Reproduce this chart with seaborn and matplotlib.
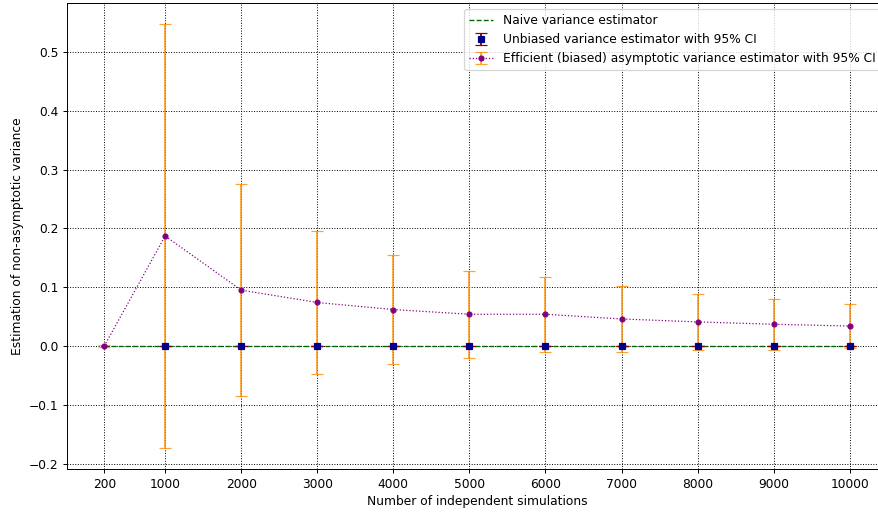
import numpy as np
import pandas as pd
import matplotlib
matplotlib.use('Agg')
import matplotlib.pyplot as plt
import seaborn as sns

# number of simulations (x) and estimates
n_sims = [200, 1000, 2000, 3000, 4000, 5000, 6000, 7000, 8000, 9000, 10000]
naive_var = [0.0] * 11

unbiased_n = [1000, 2000, 3000, 4000, 5000, 6000, 7000, 8000, 9000, 10000]
unbiased_var = [0.0] * 10
unbiased_ci = [0.0005] * 10

efficient_var = [0.0, 0.187, 0.095, 0.074, 0.062, 0.054, 0.054, 0.046, 0.041, 0.037, 0.034]
efficient_ci = [0.002, 0.360, 0.180, 0.122, 0.092, 0.074, 0.064, 0.056, 0.048, 0.043, 0.038]

naive_df = pd.DataFrame({'n': n_sims, 'var': naive_var})

DPI = 88
fig = plt.figure(figsize=(878 / DPI, 512 / DPI), dpi=DPI)
ax = fig.add_axes([67 / 878, 1 - 469 / 512, (887 - 67) / 878, (469 - 3) / 512])

sns.lineplot(data=naive_df, x='n', y='var', ax=ax, color='darkgreen',
             linestyle='--', linewidth=1.1, label='Naive variance estimator')

ax.errorbar(unbiased_n, unbiased_var, yerr=unbiased_ci, fmt='s', color='darkblue',
            ecolor='darkred', markersize=4.5, capsize=5, zorder=3,
            label='Unbiased variance estimator with 95% CI')
ax.errorbar(n_sims, efficient_var, yerr=efficient_ci, fmt='o:', color='purple',
            ecolor=(1.0, 0.55, 0.0, 0.8), markersize=4, capsize=5, linewidth=1,
            elinewidth=1.5, label='Efficient (biased) asymptotic variance estimator with 95% CI')

ax.set_xticks(n_sims)
ax.set_xlabel('Number of independent simulations')
ax.set_ylabel('Estimation of non-asymptotic variance')
ax.grid(True, linestyle=':', color='black', linewidth=0.8)
ax.legend(loc='upper right')

fig.savefig('out.png', dpi=DPI)
